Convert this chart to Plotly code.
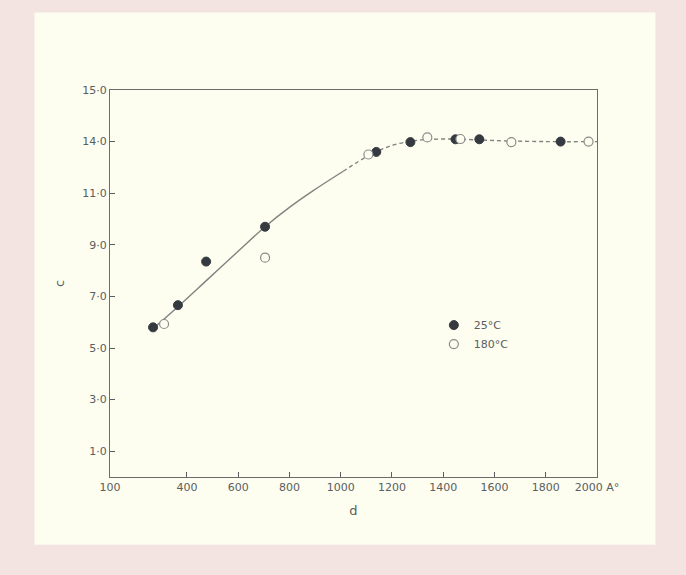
import plotly.graph_objects as go

# 25 °C (filled) and 180 °C (open) measurements
d_25 = [268, 365, 475, 705, 1139, 1272, 1448, 1541, 1858]
c_25 = [5.8, 6.66, 8.35, 9.7, 12.6, 12.98, 13.09, 13.09, 13.0]
d_180 = [311, 705, 1108, 1338, 1467, 1666, 1967]
c_180 = [5.93, 8.5, 12.5, 13.16, 13.1, 12.98, 13.0]

# drawn curve through the points
curve_solid_d = [268, 365, 480, 600, 705, 800, 893, 1010]
curve_solid_c = [5.75, 6.6, 7.65, 8.75, 9.7, 10.45, 11.1, 11.85]
curve_dot_d = [1010, 1108, 1200, 1300, 1400, 1500, 1600, 1800, 2000]
curve_dot_c = [11.85, 12.45, 12.85, 13.05, 13.1, 13.08, 13.04, 13.0, 13.0]

x_tickvals = [100, 400, 600, 800, 1000, 1200, 1400, 1600, 1800, 2000]
x_ticktext = ["100", "400", "600", "800", "1000", "1200", "1400", "1600", "1800", "2000 A°"]
y_tickvals = [1, 3, 5, 7, 9, 11, 13, 15]
y_ticktext = ["1·0", "3·0", "5·0", "7·0", "9·0", "11·0", "14·0", "15·0"]

ink = "#5a5e60"
dark = "#353a40"
paper = "#fdfdf0"

fig = go.Figure()
fig.add_trace(go.Scatter(x=curve_solid_d, y=curve_solid_c, mode="lines",
                         line=dict(color="#80837f", width=1.4, shape="spline", smoothing=1.0),
                         showlegend=False, hoverinfo="skip"))
fig.add_trace(go.Scatter(x=curve_dot_d, y=curve_dot_c, mode="lines",
                         line=dict(color="#80837f", width=1.4, shape="spline", smoothing=1.0,
                                   dash="4px,3px"),
                         showlegend=False, hoverinfo="skip"))
fig.add_trace(go.Scatter(x=d_25, y=c_25, mode="markers", name="25°C",
                         marker=dict(symbol="circle", size=9, color=dark,
                                     line=dict(color=dark, width=1))))
fig.add_trace(go.Scatter(x=d_180, y=c_180, mode="markers", name="180°C",
                         marker=dict(symbol="circle", size=9, color=paper,
                                     line=dict(color="#8a8d8a", width=1.2))))

fig.update_layout(
    width=686, height=575,
    margin=dict(l=110, r=89, t=90, b=98),
    paper_bgcolor="#f3e4e2",
    plot_bgcolor=paper,
    font=dict(family="DejaVu Sans", size=11, color=ink),
    showlegend=True,
    legend=dict(x=0.665, y=0.43, xanchor="left", yanchor="top",
                bgcolor="rgba(0,0,0,0)", font=dict(size=11, color=ink),
                itemsizing="trace", itemwidth=30, tracegroupgap=6),
    shapes=[dict(type="rect", xref="paper", yref="paper", layer="below",
                 x0=-0.155, x1=1.12, y0=-0.175, y1=1.2,
                 fillcolor=paper, line=dict(width=0))],
)
fig.update_xaxes(range=[100, 2000], tickvals=x_tickvals, ticktext=x_ticktext,
                 ticks="inside", ticklen=5, tickcolor=ink, showgrid=False,
                 zeroline=False, showline=True, linecolor="#6a6d6a", linewidth=1.3,
                 mirror=True, title=dict(text="d", standoff=12))
fig.update_yaxes(range=[0, 15], tickvals=y_tickvals, ticktext=y_ticktext,
                 ticks="inside", ticklen=5, tickcolor=ink, showgrid=False,
                 zeroline=False, showline=True, linecolor="#6a6d6a", linewidth=1.3,
                 mirror=True, title=dict(text="c", standoff=14))

fig.write_html("out.html")
